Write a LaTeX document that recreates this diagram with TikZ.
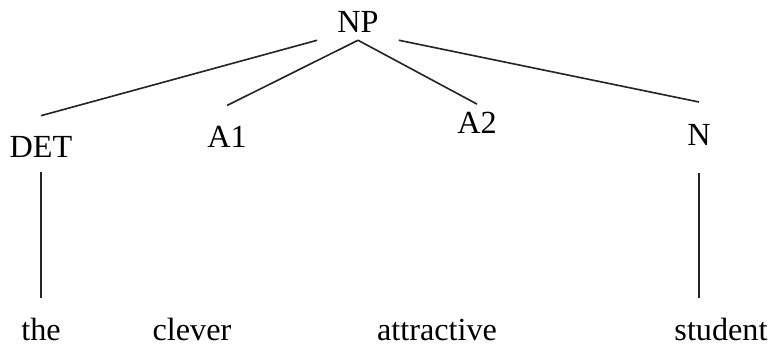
\documentclass[tikz,border=0pt]{standalone}
\usepackage{fontspec}
\setmainfont{Liberation Serif}
\tikzset{
  cat/.style={inner sep=0pt,anchor=base,font=\fontsize{27.5}{30}\selectfont},
  word/.style={inner sep=0pt,anchor=base,font=\fontsize{27.5}{30}\selectfont},
  branch/.style={line width=1.4pt,black!85}
}

\begin{document}
\begin{tikzpicture}[x=0.03cm,y=-0.03cm]
  \useasboundingbox (0,0) rectangle (769,352);
  % categories
  \node[cat,inner xsep=0.6cm,inner ysep=0.24cm] (np) at (358,32) {NP};
  \node[cat] (det) at (41,157) {DET};
  \node[cat] (aone) at (227,147) {A1};
  \node[cat] (atwo) at (477,133) {A2};
  \node[cat] (n) at (699,145) {N};
  % words
  \node[word] (the) at (41,340) {the};
  \node[word] (clever) at (192,340) {clever};
  \node[word] (attractive) at (437,340) {attractive};
  \node[word] (student) at (721,340) {student};
  % branches from NP
  \foreach \a/\c/\s in {south west/det/0.6cm,south/aone/0.6cm,south/atwo/0.22cm,south east/n/0.65cm}{
    \draw[branch] (np.\a) -- ([yshift=\s]\c.north);
  }
  % lexical branches
  \draw[branch] ([yshift=-0.45cm]det.south) -- ([yshift=0.57cm]det.south |- the.north);
  \draw[branch] ([yshift=-0.84cm]n.south) -- ([yshift=0.57cm]n.south |- student.north);
\end{tikzpicture}
\end{document}
